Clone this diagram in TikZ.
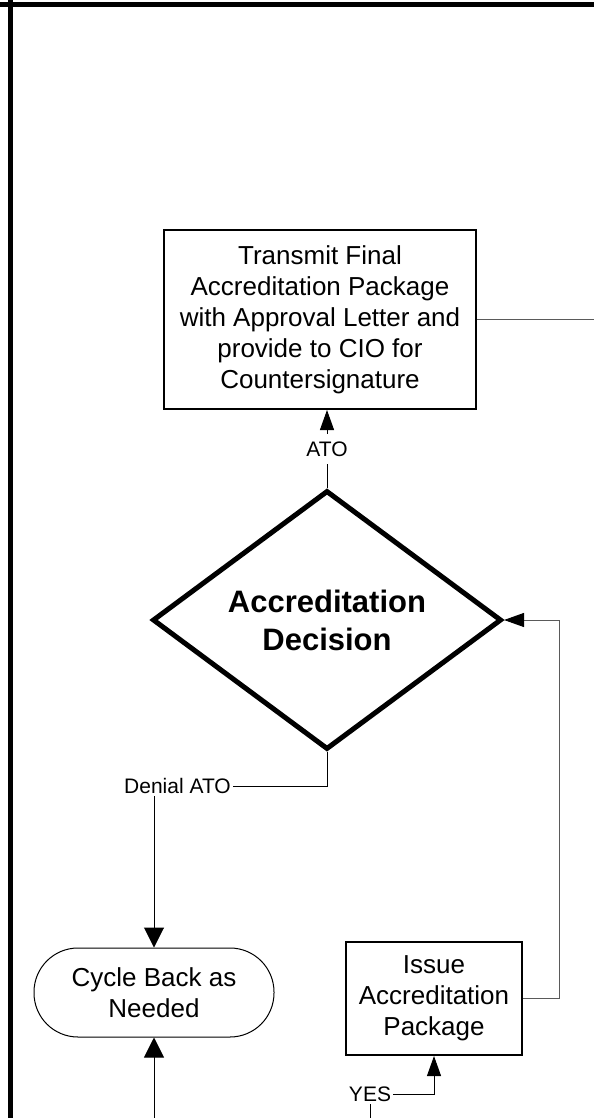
\documentclass[tikz,border=0pt]{standalone}
\usepackage{fontspec}
\setmainfont{Liberation Sans}
\usetikzlibrary{shapes.geometric,arrows.meta}
\definecolor{linegray}{HTML}{5A5A5A}
\begin{document}
\begin{tikzpicture}[x=0.5pt,y=-0.5pt,
  procbox/.style={draw, line width=1pt, inner sep=0pt, align=center, font=\fontsize{13}{15.5}\selectfont},
  lbl/.style={inner sep=1pt, font=\fontsize{10.5}{12}\selectfont},
  conn/.style={line width=0.5pt},
  tip/.style={-{Triangle[length=10pt,width=7pt,color=black]}},
  widetip/.style={-{Triangle[length=10pt,width=10pt]}}]
\useasboundingbox (0,0) rectangle (594,1118);
\draw[line width=2.5pt] (0,5) -- (594,5);
\draw[line width=2.5pt] (10,0) -- (10,1118);
\node[procbox, minimum width=156pt, minimum height=89.5pt] (send) at (320,319.5) {Transmit Final\\Accreditation Package\\with Approval Letter and\\provide to CIO for\\Countersignature};
\node[diamond, draw, line width=2.5pt, inner sep=0pt, minimum width=174.5pt, minimum height=129.5pt, align=center, font=\bfseries\fontsize{15.5}{19}\selectfont] (dec) at (327,620) {Accreditation\\Decision};
\node[procbox, rounded corners=22pt, line width=0.5pt, minimum width=120pt, minimum height=44.5pt] (cycle) at (154,992.5) {Cycle Back as\\Needed};
\node[procbox, minimum width=88pt, minimum height=56.5pt] (issue) at (434,998.5) {Issue\\Accreditation\\Package};
\node[lbl] (denial) at (177.5,786) {Denial ATO};
\node[lbl] (yes) at (370,1094) {YES};
\coordinate (sendout) at (594,319.5);
\coordinate (yesin) at (370,1118);
\coordinate (cycin) at (154,1118);
\draw[conn, linegray] (send.east) -- (sendout);
\draw[conn, tip] (dec.north) -- node[lbl, fill=white, inner sep=4pt] {ATO} (send.south -| dec.north);
\draw[conn] (dec.south) |- (denial.east);
\draw[conn, widetip] (denial.south -| cycle.north) -- (cycle.north);
\draw[conn, widetip] (cycin) -- (cycle.south);
\draw[conn, linegray, tip] (issue.east) -- ++(36,0) |- (dec.east);
\draw[conn] (yesin) -- (yes.south);
\draw[conn, tip] (yes.east) -| (issue.south);
\end{tikzpicture}
\end{document}
